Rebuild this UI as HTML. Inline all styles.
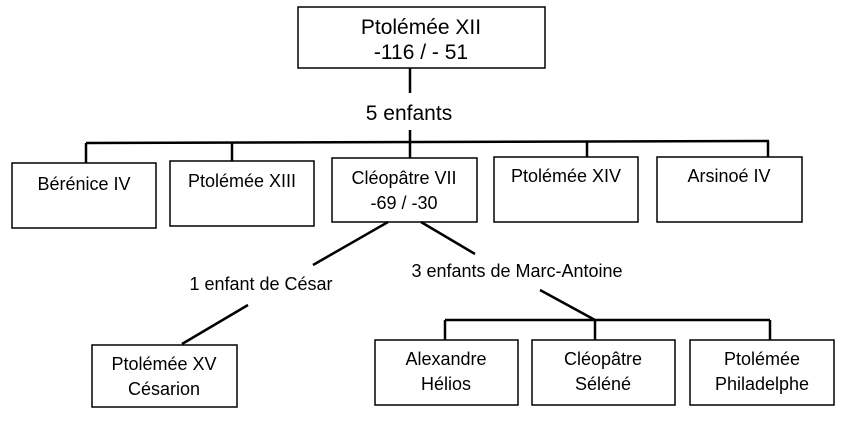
<!DOCTYPE html>
<html><head><meta charset="utf-8"><style>
body{margin:0;background:#fff;}
svg text{font-family:"Liberation Sans",sans-serif;font-size:18px;fill:#000;text-anchor:middle;}
svg text.big{font-size:21px;}
</style></head><body>
<svg width="850" height="422" viewBox="0 0 850 422" xmlns="http://www.w3.org/2000/svg">
<g fill="#fff" stroke="#000" stroke-width="1.5">
<rect x="298" y="7" width="247" height="61"/>
<rect x="12" y="163" width="144" height="65"/>
<rect x="170" y="161" width="144" height="65"/>
<rect x="332" y="158" width="145" height="64"/>
<rect x="494" y="157" width="144" height="65"/>
<rect x="657" y="157" width="145" height="65"/>
<rect x="92" y="345" width="145" height="62"/>
<rect x="375" y="340" width="143" height="65"/>
<rect x="532" y="340" width="143" height="65"/>
<rect x="690" y="340" width="144" height="65"/>
</g>
<g stroke="#000" stroke-width="2.5" fill="none">
<line x1="410" y1="68" x2="410" y2="93"/>
<line x1="410" y1="130" x2="410" y2="158"/>
<line x1="86" y1="143" x2="769" y2="141"/>
<line x1="86" y1="143" x2="86" y2="163"/>
<line x1="232" y1="143" x2="232" y2="161"/>
<line x1="587" y1="141" x2="587" y2="157"/>
<line x1="768" y1="141" x2="768" y2="157"/>
<line x1="388" y1="222" x2="313" y2="265"/>
<line x1="421" y1="222" x2="475" y2="254"/>
<line x1="248" y1="305" x2="182" y2="344"/>
<line x1="540" y1="290" x2="595" y2="320"/>
<line x1="445" y1="320" x2="770" y2="320"/>
<line x1="445" y1="320" x2="445" y2="340"/>
<line x1="595" y1="320" x2="595" y2="340"/>
<line x1="770" y1="320" x2="770" y2="340"/>
</g>
<text class="big" x="421" y="34">Ptolémée XII</text>
<text class="big" x="421" y="59">-116 / - 51</text>
<text class="big" x="409" y="120">5 enfants</text>
<text x="84" y="190">Bérénice IV</text>
<text x="242" y="187">Ptolémée XIII</text>
<text x="404" y="184">Cléopâtre VII</text>
<text x="404" y="209">-69 / -30</text>
<text x="566" y="182">Ptolémée XIV</text>
<text x="729" y="182">Arsinoé IV</text>
<text x="261" y="290">1 enfant de César</text>
<text x="517" y="277">3 enfants de Marc-Antoine</text>
<text x="164" y="370">Ptolémée XV</text>
<text x="164" y="395">Césarion</text>
<text x="446" y="365">Alexandre</text>
<text x="446" y="390">Hélios</text>
<text x="603" y="365">Cléopâtre</text>
<text x="603" y="390">Séléné</text>
<text x="762" y="365">Ptolémée</text>
<text x="762" y="390">Philadelphe</text>
</svg>
</body></html>
